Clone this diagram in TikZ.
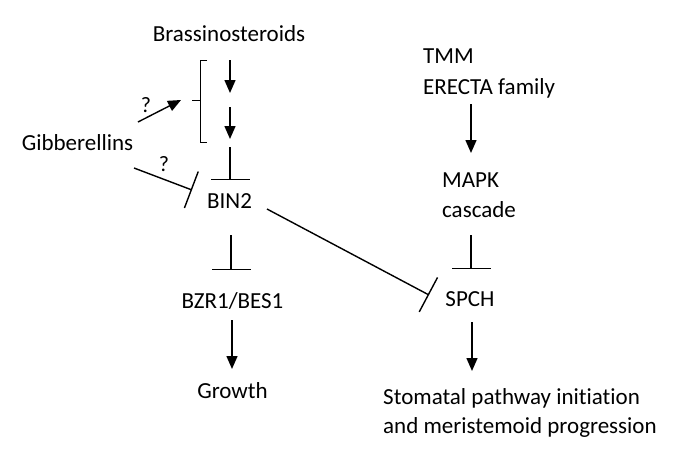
\documentclass[tikz,border=0pt]{standalone}
\usepackage{fontspec}
\setmainfont{Carlito}[Ligatures=NoCommon]
\usetikzlibrary{arrows.meta}
\begin{document}
\begin{tikzpicture}[x=1pt,y=-1pt,
  lbl/.style={inner sep=0pt,font=\fontsize{23}{30}\selectfont},
  qm/.style={inner sep=0pt,font=\fontsize{22}{26}\selectfont},
  conn/.style={line width=1.4pt},
  act/.style={conn,-{Triangle[width=11pt,length=13pt]}},
  inh/.style={conn,-{Bar[width=39pt]}}]
\useasboundingbox (0,0) rectangle (681,464);
% text nodes
\node[lbl,anchor=base] (br) at (229,41) {Brassinosteroids};
\node[lbl,anchor=base] (gib) at (77.5,150) {Gibberellins};
\node[lbl,anchor=base] (bin) at (229.5,208) {BIN2};
\node[lbl,anchor=base] (bzr) at (232.5,308) {BZR1/BES1};
\node[lbl,anchor=base] (gro) at (232.5,398) {Growth};
\node[lbl,anchor=base west] (tmm) at (423,63) {TMM};
\node[lbl,anchor=base west] (erf) at (423,94) {ERECTA family};
\node[lbl,anchor=base west] (mapk) at (442,187) {MAPK};
\node[lbl,anchor=base west] (casc) at (442,217) {cascade};
\node[lbl,anchor=base] (spch) at (470,306) {SPCH};
\node[lbl,anchor=base west] (sto) at (383,404) {Stomatal pathway initiation};
\node[lbl,anchor=base west] (mer) at (383,433) {and meristemoid progression};
\node[qm,anchor=base] (q1) at (146,112) {?};
\node[qm,anchor=base] (q2) at (164,171) {?};
% bracket
\coordinate (bt) at (207,60);
\coordinate (bb) at (207,142);
\coordinate (bm) at (192,100);
\draw[line width=1pt] (bt) -- (200,60) -- (200,142) -- (bb);
\draw[line width=1pt] (bm) -- (200,100);
% BR cascade arrows
\coordinate (a1s) at (230,60);
\coordinate (a1e) at (230,93);
\coordinate (a2s) at (230,107);
\coordinate (a2e) at (230,139);
\draw[act] (a1s) -- (a1e);
\draw[act] (a2s) -- (a2e);
\coordinate (i1s) at (230,147);
\coordinate (i1e) at (230,180);
\draw[inh] (i1s) -- (i1e);
% gibberellins
\coordinate (g1s) at (138,122);
\coordinate (g1e) at (181,100);
\draw[act] (g1s) -- (g1e);
\coordinate (g2s) at (134,168);
\coordinate (g2e) at (192,190);
\draw[inh] (g2s) -- (g2e);
% BIN2 outputs
\coordinate (b1s) at (231,235);
\coordinate (b1e) at (231,270);
\draw[inh] (b1s) -- (b1e);
\coordinate (b2s) at (267,209);
\coordinate (b2e) at (429,295);
\draw[inh] (b2s) -- (b2e);
\coordinate (z1s) at (232,320);
\coordinate (z1e) at (232,369);
\draw[act] (z1s) -- (z1e);
% right branch
\coordinate (r1s) at (471,104);
\coordinate (r1e) at (471,153);
\draw[act] (r1s) -- (r1e);
\coordinate (r2s) at (471,235);
\coordinate (r2e) at (471,269);
\draw[inh] (r2s) -- (r2e);
\coordinate (r3s) at (472,322);
\coordinate (r3e) at (472,371);
\draw[act] (r3s) -- (r3e);
\end{tikzpicture}
\end{document}
